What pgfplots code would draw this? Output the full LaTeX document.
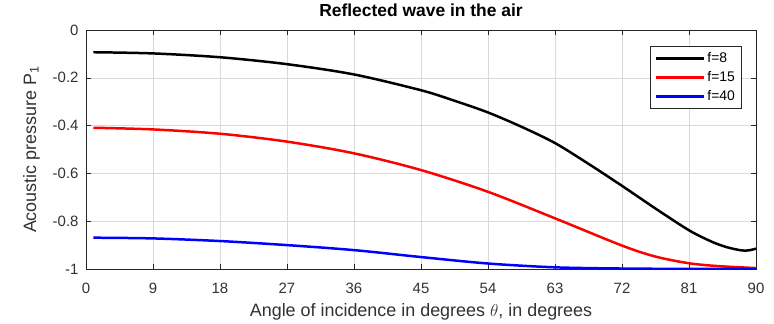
\documentclass[border=0pt]{standalone}
\usepackage{pgfplots}
\pgfplotsset{compat=1.18}
\usepackage{fontspec}
\setmainfont{Liberation Sans}
\definecolor{axgray}{RGB}{38,38,38}
\definecolor{lblgray}{RGB}{50,50,50}
\begin{document}
\begin{tikzpicture}
\begin{axis}[
  scale only axis, width=670bp, height=239bp,
  xmin=0, xmax=90, ymin=-1, ymax=0,
  xtick={0,9,...,90}, ytick={-1,-0.8,-0.6,-0.4,-0.2,0},
  yticklabels={-1,-0.8,-0.6,-0.4,-0.2,0},
  tick align=inside, tick pos=both,
  major tick length=5bp,
  axis line style={axgray, line width=0.6pt},
  tick style={axgray, line width=0.5pt},
  grid=major, grid style={gray!30, line width=0.5pt},
  /pgf/number format/assume math mode=true,
  ticklabel style={font=\fontsize{15}{17}\selectfont, text=lblgray},
  xticklabel style={anchor=base, yshift=-24bp},
  yticklabel style={anchor=east, xshift=-4bp},
  title={\bfseries Reflected wave in the air},
  title style={font=\fontsize{17.5}{19}\selectfont, at={(axis description cs:0.5,1)}, anchor=base, yshift=8bp},
  xlabel={Angle of incidence in degrees $\theta$, in degrees},
  ylabel={Acoustic pressure P\textsubscript{1}},
  label style={font=\fontsize{18}{20}\selectfont, text=lblgray},
  xlabel style={at={(axis description cs:0.5,-0.2008)}, anchor=base},
  ylabel style={at={(axis description cs:-0.0746,0.5)}, anchor=base},
  legend style={at={(rel axis cs:0.978,0.933)}, anchor=north east, font=\fontsize{14}{16}\selectfont, draw=axgray, line width=0.6pt, row sep=3.5bp, inner xsep=4bp, inner ysep=4bp},
  legend cell align=left,
  legend image code/.code={\draw[#1, line width=3pt] (0bp,0bp) -- (48bp,0bp);},
  every axis plot/.append style={line width=2.5pt, smooth},
]
\addplot[black] coordinates {(1,-0.093)(9,-0.098)(18,-0.114)(27,-0.143)(36,-0.186)(45,-0.252)(49.5,-0.296)(54,-0.345)(58.5,-0.405)(63,-0.473)(67.5,-0.560)(72,-0.652)(76.5,-0.747)(81,-0.838)(84,-0.885)(86,-0.908)(88,-0.922)(89,-0.922)(90,-0.915)};
\addlegendentry{f=8}
\addplot[red] coordinates {(1,-0.409)(9,-0.416)(18,-0.434)(27,-0.467)(36,-0.516)(45,-0.586)(54,-0.677)(63,-0.788)(72,-0.902)(76.5,-0.948)(81,-0.976)(85,-0.988)(90,-0.996)};
\addlegendentry{f=15}
\addplot[blue] coordinates {(1,-0.869)(9,-0.872)(18,-0.883)(27,-0.900)(36,-0.921)(45,-0.950)(54,-0.977)(63,-0.993)(72,-0.998)(81,-0.9995)(90,-1)};
\addlegendentry{f=40}
\coordinate (bl) at (rel axis cs:0,0);
\coordinate (tr) at (rel axis cs:1,1);
\end{axis}
\pgfresetboundingbox
\path[use as bounding box] ([xshift=-86bp,yshift=-54bp]bl) rectangle ([xshift=18bp,yshift=30bp]tr);
\end{tikzpicture}
\end{document}
